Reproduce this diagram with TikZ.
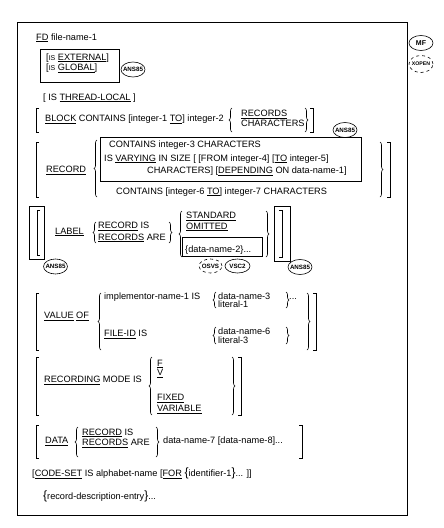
\documentclass[tikz,border=0pt]{standalone}
\usepackage{fontspec}
\setmainfont{Liberation Sans}
\usetikzlibrary{decorations.pathreplacing,shapes.geometric}
\newcommand\un[1]{\underline{#1}}
\tikzset{
  x=1pt, y=-1pt,
  t/.style={anchor=base west, inner sep=0pt, font=\fontsize{9.2}{10}\selectfont},
  brc/.style={decorate, decoration={brace, amplitude=3pt}, line width=0.6pt},
  brk/.style={line width=0.7pt},
  badge/.style={draw, ellipse, line width=0.6pt, inner ysep=0pt, inner xsep=-2.5pt, minimum width=24pt, minimum height=15pt, font=\fontsize{6.2}{6.5}\selectfont\bfseries},
  dbadge/.style={badge, dashed}
}
\begin{document}
\begin{tikzpicture}
\useasboundingbox (0,0) rectangle (444,528);
% frame
\draw[line width=0.7pt] (17.5,22.7) rectangle (407,515);
% side badges
\node[badge, font=\fontsize{7}{7}\selectfont\bfseries] (mf) at (421,43) {MF};
\node[dbadge, minimum height=17pt, font=\fontsize{5.2}{5.5}\selectfont\bfseries] (xopen) at (421,64) {XOPEN};

% FD
\node[t] (fd) at (36,40) {\un{FD} file-name-1};
\draw[line width=0.7pt] (40,49) rectangle (119,82);
\node[t] (ext) at (46,60) {[{\scriptsize IS} \un{EXTERNAL}]};
\node[t] (glob) at (46,70.5) {[{\scriptsize IS} \un{GLOBAL}]};
\node[badge] (a1) at (133,69.5) {ANS85};

% thread-local
\node[t] (thr) at (43,100) {[ IS \un{THREAD-LOCAL} ]};

% BLOCK
\draw[brk] (39,108) -- (36,108) -- (36,132) -- (39,132);
\node[t] (blk) at (45,121.5) {\un{BLOCK} CONTAINS [integer-1 \un{TO}] integer-2};
\draw[brc] (232,132) -- (232,108);
\node[t] (brec) at (241,116.5) {\un{RECORDS}};
\node[t] (bchr) at (241,126.5) {CHARACTERS};
\draw[brc] (305,108) -- (305,132);
\draw[brk] (310,108) -- (313,108) -- (313,132) -- (310,132);
\node[badge] (a2) at (345,130) {ANS85};

% RECORD
\draw[brk] (39,142) -- (36,142) -- (36,197) -- (39,197);
\node[t] (rec) at (46,172.5) {\un{RECORD}};
\draw[brc] (97,197) -- (97,140);
\draw[line width=0.7pt] (100,137) rectangle (361,181);
\node[t] (r1) at (109,147.5) {CONTAINS integer-3 CHARACTERS};
\node[t] (r2) at (104,161) {IS \un{VARYING} IN SIZE [ [FROM integer-4] [\un{TO} integer-5]};
\node[t] (r3) at (147,173.5) {CHARACTERS] [\un{DEPENDING} ON data-name-1]};
\node[t] (r4) at (116,194) {CONTAINS [integer-6 \un{TO}] integer-7 CHARACTERS};
\draw[brc] (380,142) -- (380,197);
\draw[brk] (387,142) -- (390,142) -- (390,197) -- (387,197);

% LABEL
\draw[line width=0.7pt] (29,206) rectangle (44,259);
\draw[brk] (40,210) -- (37,210) -- (37,255) -- (40,255);
\node[badge] (a3) at (55.5,266.5) {ANS85};
\node[t] (lab) at (55,234) {\un{LABEL}};
\draw[brc] (96,243) -- (96,222);
\node[t] (lrec) at (98,228.5) {\un{RECORD} IS};
\node[t] (lrecs) at (98,240) {\un{RECORDS} ARE};
\draw[brc] (169,222) -- (169,243);
\draw[brc] (182,257) -- (182,211);
\node[t] (std) at (186,218.5) {\un{STANDARD}};
\node[t] (omi) at (186,229) {\un{OMITTED}};
\draw[line width=0.7pt] (182,237) rectangle (262,256);
\node[t] (dn2) at (185,252.5) {\{data-name-2\}...};
\draw[brc] (266,211) -- (266,257);
\draw[line width=0.7pt] (274,206) rectangle (290,261);
\draw[brk] (279,210) -- (282,210) -- (282,257) -- (279,257);
\node[dbadge, minimum width=23pt, minimum height=14pt] (osvs) at (210.5,266) {OSVS};
\node[badge, minimum width=25pt, minimum height=14pt] (vsc2) at (237.5,266) {VSC2};
\node[badge] (a4) at (300,267) {ANS85};

% VALUE OF
\draw[brk] (39,293) -- (36,293) -- (36,350) -- (39,350);
\node[t] (val) at (44,318.5) {\un{VALUE} \un{OF}};
\draw[brc] (101,350) -- (101,293);
\node[t] (imp) at (104,299.5) {implementor-name-1 IS};
\draw[brc] (216,308) -- (216,292);
\node[t] (dn3) at (218,299) {data-name-3};
\node[t] (lit1) at (218,307.5) {literal-1};
\draw[brc] (286,292) -- (286,308);
\node[t] (dots1) at (289,299.5) {...};
\node[t] (fid) at (104,336.5) {\un{FILE-ID} IS};
\draw[brc] (216,344) -- (216,327);
\node[t] (dn6) at (218,334.5) {data-name-6};
\node[t] (lit3) at (218,343) {literal-3};
\draw[brc] (286,327) -- (286,344);
\draw[brc] (307,293) -- (307,350);
\draw[brk] (313,293) -- (316,293) -- (316,350) -- (313,350);

% RECORDING MODE
\draw[brk] (39,357) -- (36,357) -- (36,415) -- (39,415);
\node[t] (rm) at (44,382.5) {\un{RECORDING} MODE IS};
\draw[brc] (152,415) -- (152,357);
\node[t] (mf1) at (157,366) {\un{F}};
\node[t] (mv) at (157,375.5) {\un{V}};
\node[t] (mfix) at (157,400.5) {\un{FIXED}};
\node[t] (mvar) at (157,411.7) {\un{VARIABLE}};
\draw[brc] (232,357) -- (232,415);
\draw[brk] (238,357) -- (241,357) -- (241,415) -- (238,415);

% DATA
\draw[brk] (39,425) -- (36,425) -- (36,458) -- (39,458);
\node[t] (dat) at (45,443.5) {\un{DATA}};
\draw[brc] (78,457) -- (78,427);
\node[t] (drec) at (82,435) {\un{RECORD} IS};
\node[t] (drecs) at (82,445.7) {\un{RECORDS} ARE};
\draw[brc] (156,427) -- (156,457);
\node[t] (dn7) at (163,443.5) {data-name-7 [data-name-8]...};
\draw[brk] (299,425) -- (302,425) -- (302,458) -- (299,458);

% CODE-SET
\node[t] (cs) at (32,476.5) {[\un{CODE-SET} IS alphabet-name [\un{FOR} {\large\{}identifier-1{\large\}}... ]]};
\node[t] (rde) at (43,499.5) {{\large\{}record-description-entry{\large\}}...};
\end{tikzpicture}
\end{document}
